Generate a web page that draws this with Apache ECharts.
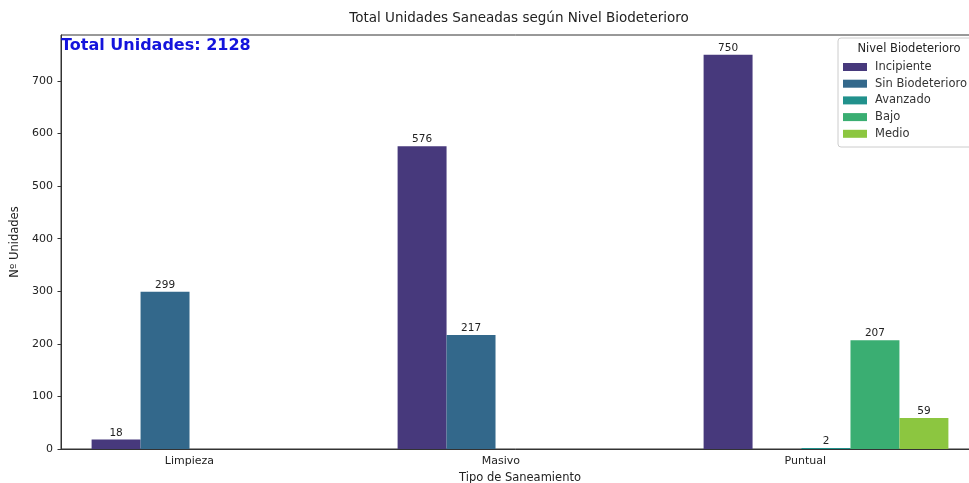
<!DOCTYPE html>
<html>
<head>
<meta charset="utf-8">
<script src="https://cdn.jsdelivr.net/npm/echarts@6/dist/echarts.min.js"></script>
<style>
  html, body { margin: 0; padding: 0; background: #fff; }
  #chart { width: 969px; height: 483px; }
</style>
</head>
<body>
<div id="chart"></div>
<script>
// tipos de saneamiento (eje x)
var categories = ['Limpieza', 'Masivo', 'Puntual'];
// niveles de biodeterioro (leyenda)
var niveles = ['Incipiente', 'Sin Biodeterioro', 'Avanzado', 'Bajo', 'Medio'];
var incipiente = [18, 576, 750];
var sinBiodeterioro = [299, 217, null];
var avanzado = [null, null, 2];
var bajo = [null, null, 207];
var medio = [null, null, 59];
var yTicks = [0, 100, 200, 300, 400, 500, 600, 700];

var colores = ['#47397c', '#33688b', '#21918c', '#3aae72', '#8cc640'];
var valores = [incipiente, sinBiodeterioro, avanzado, bajo, medio];

var total = 0;
valores.forEach(function (arr) {
    arr.forEach(function (v) { if (v != null) total += v; });
});

var font = 'DejaVu Sans';
var myChart = echarts.init(document.getElementById('chart'));

var series = niveles.map(function (n, i) {
    return {
        name: n,
        type: 'bar',
        data: valores[i],
        itemStyle: { color: colores[i] },
        barGap: '0%',
        barCategoryGap: '20%',
        label: {
            show: true,
            position: 'top',
            distance: 1,
            fontFamily: font,
            fontSize: 10.5,
            color: '#222'
        },
        animation: false
    };
});

myChart.setOption({
    animation: false,
    title: {
        text: 'Total Unidades Saneadas según Nivel Biodeterioro',
        left: 519,
        top: 11,
        textAlign: 'center',
        padding: 0,
        textStyle: { fontFamily: font, fontSize: 13.5, fontWeight: 'normal', color: '#222' }
    },
    grid: {
        left: 61,
        right: -10,
        top: 35,
        bottom: 34,
        outerBoundsMode: 'none',
        containLabel: false,
        show: true,
        borderColor: '#333',
        borderWidth: 1,
        backgroundColor: 'transparent'
    },
    legend: {
        data: niveles,
        orient: 'vertical',
        left: 843,
        top: 61,
        padding: 0,
        itemGap: 4.7,
        itemWidth: 24,
        itemHeight: 8,
        icon: 'rect',
        z: 20,
        textStyle: { fontFamily: font, fontSize: 11.5, color: '#333', lineHeight: 12, padding: [0, 0, 0, 3] }
    },
    xAxis: {
        type: 'category',
        data: categories,
        name: 'Tipo de Saneamiento',
        nameLocation: 'middle',
        nameGap: 22,
        nameTextStyle: { fontFamily: font, fontSize: 11.5, color: '#222' },
        axisLine: { lineStyle: { color: '#333', width: 1 } },
        axisTick: { alignWithLabel: true, length: 3.5, lineStyle: { color: '#333' } },
        axisLabel: { fontFamily: font, fontSize: 11, color: '#222', margin: 7, align: 'right' }
    },
    yAxis: {
        type: 'value',
        min: 0,
        max: 787.5,
        name: 'Nº Unidades',
        nameLocation: 'middle',
        nameRotate: 90,
        nameGap: 33,
        nameTextStyle: { fontFamily: font, fontSize: 11.5, color: '#222' },
        splitLine: { show: false },
        axisLine: { show: true, lineStyle: { color: '#333', width: 1 } },
        axisTick: { show: true, length: 3.5, customValues: yTicks, lineStyle: { color: '#333' } },
        axisLabel: { fontFamily: font, fontSize: 11, color: '#222', margin: 8, customValues: yTicks }
    },
    graphic: [
        {
            type: 'rect',
            shape: { x: 838, y: 38, width: 140, height: 109, r: 3 },
            style: { fill: 'rgba(255,255,255,0.8)', stroke: '#ccc', lineWidth: 1 },
            z: 5
        },
        {
            type: 'text',
            x: 909,
            y: 49,
            style: {
                text: 'Nivel Biodeterioro',
                fontFamily: font,
                fontSize: 11.5,
                fill: '#222',
                align: 'center',
                verticalAlign: 'middle'
            },
            z: 6
        },
        {
            type: 'text',
            x: 61,
            y: 46,
            style: {
                text: 'Total Unidades: ' + total,
                fontFamily: font,
                fontSize: 16,
                fontWeight: 'bold',
                fill: '#1414dc',
                align: 'left',
                verticalAlign: 'middle'
            },
            z: 6
        }
    ],
    series: series
});
</script>
</body>
</html>
